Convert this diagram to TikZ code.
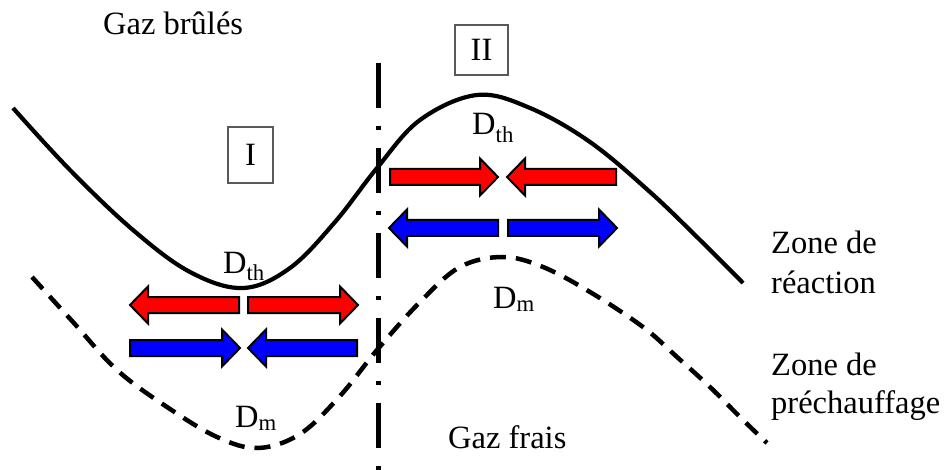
\documentclass[tikz,border=0pt]{standalone}
\usepackage{fontspec}
\setmainfont{Liberation Serif}
\usetikzlibrary{calc}
\definecolor{redfill}{RGB}{255,0,0}
\definecolor{bluefill}{RGB}{0,0,255}
\newcommand{\fatarr}[4]{%
  \pgfmathsetmacro\fdir{(#3>#2)?1:-1}%
  \pgfmathsetmacro\fbase{#3-18*\fdir}%
  \draw[#1] (#2,#4-8) -- (\fbase,#4-8) -- (\fbase,#4-18.5) -- (#3,#4) -- (\fbase,#4+18.5) -- (\fbase,#4+8) -- (#2,#4+8) -- cycle;}
\begin{document}
\begin{tikzpicture}[x=1pt,y=-1pt,
  lbl/.style={font=\fontsize{32.5}{38}\selectfont, inner sep=0pt, anchor=base west},
  boxlbl/.style={font=\fontsize{32.5}{38}\selectfont, draw=black!65, line width=1.5pt, inner sep=0pt},
  redarr/.style={fill=redfill, draw=black, line width=2pt, line join=miter},
  bluearr/.style={fill=bluefill, draw=black, line width=2pt, line join=miter},
  reaction/.style={line width=4.2pt},
  preheat/.style={line width=4.5pt, dash pattern=on 16pt off 10pt},
  front/.style={line width=5pt, dash pattern=on 45pt off 18pt on 4pt off 18pt}]
\useasboundingbox (0,0) rectangle (952,470);
% reaction zone (solid)
\draw[reaction] plot[smooth, tension=0.6] coordinates {(13,108) (70,170) (133,230) (190,272) (243,288) (290,268) (335,222) (377,168) (420,120) (477,95) (530,108) (590,142) (650,192) (700,240) (743,283)};
% preheating zone (dashed)
\draw[preheat] plot[smooth, tension=0.6] coordinates {(32,277) (73,322) (117,370) (167,407) (217,437) (258,448) (300,434) (340,396) (377,350) (420,302) (460,267) (503,257) (543,267) (590,292) (643,327) (677,357) (710,387) (743,420) (767,443)};
% front line
\coordinate (ftop) at (378,63);
\coordinate (fbot) at (378,470);
\draw[front] (ftop) -- (fbot);
% boxes
\node[boxlbl, minimum width=45pt, minimum height=56pt] (boxI) at (250.5,155) {I};
\node[boxlbl, minimum width=53pt, minimum height=50pt] (boxII) at (481.5,50) {II};
% arrows left
\fatarr{redarr}{239}{130}{305}
\fatarr{redarr}{248}{358}{305}
\fatarr{bluearr}{130}{240}{348}
\fatarr{bluearr}{357}{248}{348}
% arrows right
\fatarr{redarr}{390}{498}{177}
\fatarr{redarr}{616}{507}{177}
\fatarr{bluearr}{498}{389}{228}
\fatarr{bluearr}{508}{617}{228}
% labels
\node[lbl] (gb) at (103,35) {Gaz brûlés};
\node[lbl] (gf) at (448,448) {Gaz frais};
\node[lbl] (dthl) at (223,273) {D\textsubscript{th}};
\node[lbl] (dthr) at (472,135) {D\textsubscript{th}};
\node[lbl] (dml) at (235,427) {D\textsubscript{m}};
\node[lbl] (dmr) at (493,308) {D\textsubscript{m}};
\node[lbl] (zr1) at (771,253) {Zone de};
\node[lbl] (zr2) at (771,293) {réaction};
\node[lbl] (zp1) at (771,375) {Zone de};
\node[lbl] (zp2) at (771,413) {préchauffage};
\end{tikzpicture}
\end{document}
